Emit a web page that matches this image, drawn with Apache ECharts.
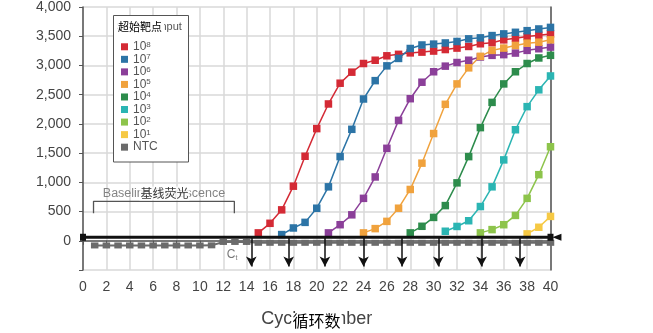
<!DOCTYPE html>
<html>
<head>
<meta charset="utf-8">
<script src="https://cdn.jsdelivr.net/npm/echarts@6/dist/echarts.min.js"></script>
<style>
  html, body { margin: 0; padding: 0; background: #fff; }
  #chart { width: 653px; height: 333px; }
</style>
</head>
<body>
<div id="chart"></div>
<script>
// Amplification curves of a qPCR dilution series (fluorescence vs. cycle)
const seriesNames = ['10^8', '10^7', '10^6', '10^5', '10^4', '10^3', '10^2', '10^1'];
const seriesColors = ['#d42a35', '#2c74a6', '#8b3f99', '#f0a23d', '#2d8c4c', '#2bb5b3', '#8dc44b', '#f6c944'];
// first cycle at which each curve is plotted
const firstCycle = [15, 17, 21, 24, 28, 31, 34, 38];

const input1e8 = [135, 299, 529, 934, 1446, 1919, 2341, 2696, 2885, 3033, 3089, 3165, 3190, 3215, 3228,
                  3246, 3272, 3297, 3325, 3371, 3388, 3438, 3466, 3494, 3516, 3540];
const input1e7 = [106, 219, 315, 557, 923, 1440, 1907, 2426, 2740, 2993, 3120, 3290, 3350, 3365, 3385,
                  3410, 3455, 3472, 3511, 3540, 3567, 3595, 3624, 3651];
const input1e6 = [135, 275, 444, 726, 1092, 1582, 2060, 2431, 2713, 2892, 2988, 3050, 3089, 3145, 3173,
                  3185, 3212, 3258, 3286, 3314];
const input1e5 = [135, 208, 332, 557, 878, 1328, 1835, 2335, 2684, 2959, 3156, 3258, 3297, 3342, 3381,
                  3398, 3438];
const input1e4 = [135, 248, 400, 602, 991, 1440, 1936, 2368, 2684, 2892, 3033, 3128, 3173];
const input1e3 = [163, 245, 343, 586, 923, 1384, 1900, 2295, 2583, 2820];
const input1e2 = [135, 191, 275, 434, 726, 1131, 1609];
const input1e1 = [118, 231, 417];

// no-template control, cycles 1..40
const ntcValues = [-80, -80, -80, -80, -80, -80, -80, -80, -80, -80, -78, -20, -20, -20, -35, -35, -35, -35,
                   -35, -35, -35, -35, -35, -35, -35, -35, -35, -35, -35, -35, -35, -35, -35, -35, -35,
                   -35, -35, -35, -35, -35];

const threshold = 60;
const ctValues = [14.4, 17.6, 20.7, 24.0, 27.3, 30.4, 34.1, 37.4];
const ctArrowEnd = -440;
const baselineCycles = [0.9, 12.95];
const baselineBracket = [470, 675];
const baselineLabelY = 810;
const ctLabelPos = [12.76, -236];

const curves = [input1e8, input1e7, input1e6, input1e5, input1e4, input1e3, input1e2, input1e1];

const latin = '"Liberation Sans", Arial, sans-serif';
const cjk = '"Noto Sans CJK SC", sans-serif';

const curveSeries = curves.map((vals, i) => ({
  name: seriesNames[i],
  type: 'line',
  data: vals.map((v, k) => [firstCycle[i] + k, v]),
  symbol: 'rect',
  symbolSize: 7.5,
  itemStyle: { color: seriesColors[i] },
  lineStyle: { color: seriesColors[i], width: 1.5 },
  clip: false,
  z: 3
}));

const ntcSeries = {
  name: 'NTC',
  type: 'line',
  data: ntcValues.map((v, k) => [k + 1, v]),
  symbol: 'rect',
  symbolSize: [7.5, 6],
  itemStyle: { color: '#6b6b6b' },
  lineStyle: { color: '#6b6b6b', width: 2 },
  clip: false,
  z: 2
};

const thresholdSeries = {
  name: 'threshold',
  type: 'line',
  data: [[0, threshold], [40, threshold]],
  symbol: 'rect',
  symbolSize: [6, 7],
  itemStyle: { color: '#111' },
  lineStyle: { color: '#111', width: 3 },
  clip: false,
  z: 5,
  markLine: {
    silent: true,
    symbol: ['none', 'arrow'],
    symbolSize: [8, 10],
    lineStyle: { color: '#111', width: 1.5, type: 'solid' },
    label: { show: false },
    data: ctValues.map(c => [{ coord: [c, threshold] }, { coord: [c, ctArrowEnd] }])
  }
};

// pointer from the threshold caption to the threshold line
const thresholdPointer = {
  name: 'thresholdPointer',
  type: 'line',
  data: [
    { value: [42.2, threshold], symbol: 'none',
      label: { show: true, position: 'right', distance: 2, formatter: '荧光阈值',
               fontFamily: cjk, fontSize: 12, color: '#000' } },
    { value: [40.55, threshold], symbol: 'path://M0,5 L10,0 L10,10 Z', symbolSize: [9, 7] }
  ],
  itemStyle: { color: '#111' },
  lineStyle: { color: '#111', width: 1.5 },
  clip: false,
  z: 6
};

const bracketSeries = {
  name: 'baseline',
  type: 'line',
  data: [[baselineCycles[0], baselineBracket[0]], [baselineCycles[0], baselineBracket[1]],
         [baselineCycles[1], baselineBracket[1]], [baselineCycles[1], baselineBracket[0]]],
  symbol: 'none',
  lineStyle: { color: '#555', width: 1.3 },
  clip: false,
  z: 6
};

const midBaseline = (baselineCycles[0] + baselineCycles[1]) / 2;
const textSeries = {
  name: 'notes',
  type: 'scatter',
  symbolSize: 0,
  clip: false,
  z: 7,
  data: [
    { value: [midBaseline, baselineLabelY],
      label: { show: true, position: 'inside', formatter: 'Baseline fluorescence',
               fontFamily: latin, fontSize: 12.5, color: '#666' } },
    { value: [ctLabelPos[0], ctLabelPos[1]],
      label: { show: true, position: 'inside', formatter: 'C{sub|t}',
               fontFamily: latin, fontSize: 12, color: '#555',
               rich: { sub: { fontSize: 7, color: '#555', verticalAlign: 'bottom', lineHeight: 14, padding: [6, 0, 0, 0] } } } }
  ]
};
const textSeriesTop = {
  name: 'notesCn',
  type: 'scatter',
  symbolSize: 0,
  clip: false,
  z: 8,
  data: [
    { value: [midBaseline + 0.05, baselineLabelY],
      label: { show: true, position: 'inside', formatter: '基线荧光',
               fontFamily: cjk, fontSize: 12, color: '#000',
               backgroundColor: '#fff', padding: [1, 1] } }
  ]
};

const chart = echarts.init(document.getElementById('chart'), null, { renderer: 'canvas' });

chart.setOption({
  animation: false,
  backgroundColor: '#fff',
  grid: { left: 83, right: 102.5, top: 6, bottom: 60, containLabel: false },
  xAxis: {
    type: 'value',
    min: 0, max: 40, interval: 2,
    name: 'Cycle number',
    nameLocation: 'middle',
    nameGap: 40,
    nameTextStyle: { fontFamily: latin, fontSize: 18, color: '#444' },
    axisLine: { lineStyle: { color: '#555', width: 1.5 } },
    axisTick: { show: true, length: 4, lineStyle: { color: '#555' } },
    axisLabel: { fontFamily: latin, fontSize: 14, color: '#444', margin: 10 },
    splitLine: { show: true, lineStyle: { color: '#d9d9d9', width: 1.5 } }
  },
  yAxis: [{
    type: 'value',
    min: -500, max: 4000, interval: 500,
    axisLine: { show: true, lineStyle: { color: '#555', width: 1.5 } },
    axisTick: { show: true, length: 4, lineStyle: { color: '#555' } },
    axisLabel: {
      fontFamily: latin, fontSize: 14, color: '#444', margin: 12,
      formatter: v => v < 0 ? '' : String(v).replace(/\B(?=(\d{3})+(?!\d))/g, ',')
    },
    splitLine: { show: true, lineStyle: { color: '#d9d9d9', width: 1.5 } }
  }, {
    type: 'value',
    position: 'right',
    min: -500, max: 4000, interval: 500,
    axisLine: { show: true, lineStyle: { color: '#555', width: 1.5 } },
    axisTick: { show: false },
    axisLabel: { show: false },
    splitLine: { show: false }
  }],
  legend: {
    data: seriesNames.concat(['NTC']),
    orient: 'vertical',
    left: 121, top: 40.5,
    padding: 0,
    itemWidth: 7, itemHeight: 7,
    itemGap: 0,
    icon: 'rect',
    selectedMode: false,
    formatter: name => name === 'NTC' ? 'NTC' : '10{sup|' + name.split('^')[1] + '}',
    textStyle: {
      fontFamily: latin, fontSize: 12, color: '#555', lineHeight: 12.55,
      rich: { sup: { fontFamily: latin, fontSize: 8, color: '#555', verticalAlign: 'top', lineHeight: 8 } }
    }
  },
  graphic: [
    { type: 'rect', z: 3, shape: { x: 113.5, y: 15.5, width: 75, height: 146.5 },
      style: { fill: '#fff', stroke: '#555', lineWidth: 1 } },
    { type: 'text', z: 5, x: 117, y: 27,
      style: { text: 'Starting input', font: '11px ' + latin, fill: '#555', textVerticalAlign: 'middle' } },
    { type: 'text', z: 6, x: 118, y: 27,
      style: { text: '超始靶点', font: '11px ' + cjk, fill: '#000', textVerticalAlign: 'middle',
               backgroundColor: '#fff', padding: [0, 2, 0, 0] } },
    { type: 'text', z: 10, x: 316.5, y: 321,
      style: { text: '循环数', font: '16px ' + cjk, fill: '#000', textAlign: 'center',
               textVerticalAlign: 'middle', backgroundColor: '#fff', padding: [0, 1] } }
  ],
  series: [ntcSeries].concat(curveSeries, [thresholdSeries, thresholdPointer, bracketSeries, textSeries, textSeriesTop])
});
</script>
</body>
</html>
